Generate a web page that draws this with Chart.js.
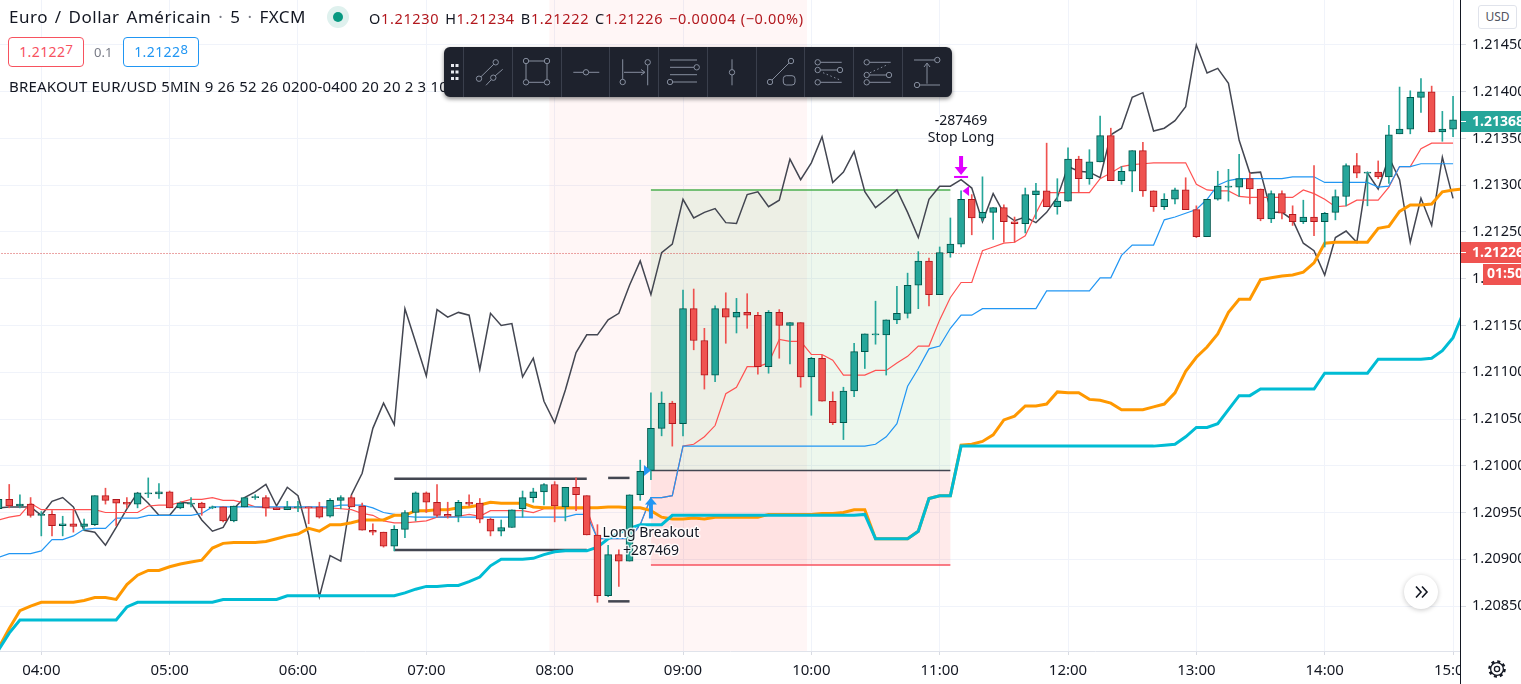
<!DOCTYPE html>
<html>
<head>
<meta charset="utf-8">
<script src="https://cdn.jsdelivr.net/npm/chart.js@4"></script>
<style>
  html, body { margin: 0; padding: 0; background: #fff; overflow: hidden; }
  body { width: 1521px; height: 684px; position: relative; font-family: "Noto Sans", sans-serif; color: #131722; }
  #wrap { position: absolute; left: 0; top: 0; width: 1521px; height: 684px; }
  .txt { position: absolute; white-space: nowrap; }
  .title { left: 9px; top: 5px; font-size: 17px; line-height: 24px; word-spacing: 2px; letter-spacing: .5px; }
  .title i { font-style: normal; color: #787b86; }
  .dot { position: absolute; left: 327px; top: 6px; width: 22px; height: 22px; border-radius: 50%; background: #dff1ee; }
  .dot:after { content: ''; position: absolute; left: 6px; top: 6px; width: 10px; height: 10px; border-radius: 50%; background: #089981; }
  .ohlc { left: 369px; top: 8px; font-size: 14.5px; line-height: 20px; color: #131722; letter-spacing: .65px; }
  .ohlc b { font-weight: 400; color: #b2181e; margin-right: 6px; }
  .pbox { position: absolute; top: 37px; height: 28px; border-radius: 4px; background: #fff; font-size: 14px; line-height: 28px; text-align: center; letter-spacing: .4px; }
  .pbox sup { font-size: 13px; line-height: 0; vertical-align: 3px; letter-spacing: 0; }
  .sell { left: 8px; width: 74px; border: 1px solid #f7525f; color: #f7525f; }
  .buy { left: 123px; width: 74px; border: 1px solid #2196f3; color: #2196f3; }
  .spread { left: 94px; top: 42px; font-size: 13px; line-height: 20px; color: #787b86; }
  .study { left: 9px; top: 76px; font-size: 15px; line-height: 20px; letter-spacing: .18px; }
  #tools { position: absolute; left: 444px; top: 47px; width: 508px; height: 50px; border-radius: 6px; background: #1e222d; box-shadow: 0 2px 4px rgba(0,0,0,.45); }
  #tools svg { display: block; }
  .usd { position: absolute; left: 1478px; top: 5px; width: 37px; height: 22px; border: 1px solid #e0e3eb; border-radius: 3px; font-size: 12px; line-height: 22px; text-align: center; background: #fff; color: #50535e; }
  .more { position: absolute; left: 1404px; top: 575px; width: 34px; height: 34px; border-radius: 50%; background: #fff; box-shadow: 0 1px 5px rgba(0,0,0,.22); }
  .gear { position: absolute; left: 1487px; top: 659px; }
</style>
</head>
<body>
<div id="wrap"><canvas id="chartMain"></canvas></div>

<div class="txt title">Euro / Dollar Américain <i>·</i> 5 <i>·</i> FXCM</div>
<div class="dot"></div>
<div class="txt ohlc">O<b>1.21230</b>H<b>1.21234</b>B<b>1.21222</b>C<b>1.21226</b><b>−0.00004 (−0.00%)</b></div>
<div class="pbox sell">1.2122<sup>7</sup></div>
<div class="txt spread">0.1</div>
<div class="pbox buy">1.2122<sup>8</sup></div>
<div class="txt study">BREAKOUT EUR/USD 5MIN 9 26 52 26 0200-0400 20 20 2 3 10</div>

<div id="tools">
  <svg width="508" height="50" fill="none" stroke="#868e9e" stroke-width="1">
    <g stroke="#3a3f4c">
      <path d="M19.5 0V50M68.5 0V50M117.5 0V50M165.5 0V50M214.5 0V50M263.5 0V50M312.5 0V50M360.5 0V50M409.5 0V50M458.5 0V50"/>
    </g>
    <g fill="#e8eaf0" stroke="none">
      <rect x="7" y="17" width="3" height="3"/><rect x="11.5" y="17" width="3" height="3"/>
      <rect x="7" y="23.5" width="3" height="3"/><rect x="11.5" y="23.5" width="3" height="3"/>
      <rect x="7" y="30" width="3" height="3"/><rect x="11.5" y="30" width="3" height="3"/>
    </g>
    <path d="M37 29.7L49.8 17.2M42 38.3L47.3 32.7M51.2 28.8L58.7 22.3"/>
    <circle cx="35" cy="31.7" r="2.7"/><circle cx="51.7" cy="15.3" r="2.7"/><circle cx="49.3" cy="30.7" r="2.7"/>
    <path d="M84.7 14H100.3M84.7 35.3H100.3M82 16.7V32.6M103 16.7V32.6"/>
    <circle cx="82" cy="14" r="2.7"/><circle cx="103" cy="14" r="2.7"/><circle cx="82" cy="35.3" r="2.7"/><circle cx="103" cy="35.3" r="2.7"/>
    <path d="M129.3 25.3H139.3M144.7 25.3H155.3"/><circle cx="142" cy="25.3" r="2.7"/>
    <path d="M178.7 12.3V32.3M180 25.3H200M197 22.5L201 25.3L197 28M203.7 18V38.3"/>
    <circle cx="178.7" cy="35" r="2.7"/><circle cx="203.7" cy="15.3" r="2.7"/>
    <path d="M226 13H253M226 20.3H250M226 27.7H253M228.7 35H253"/>
    <circle cx="252.7" cy="20.3" r="2.7"/><circle cx="226" cy="35" r="2.7"/>
    <path d="M288 12.3V22.6M288 28V38.3"/><circle cx="288" cy="25.3" r="2.7"/>
    <path d="M328 33L345 16"/><circle cx="326" cy="35" r="2.7"/><circle cx="347" cy="14" r="2.7"/>
    <rect x="339.3" y="28.7" width="11.7" height="9.3" rx="3"/>
    <path d="M376.4 15.3H397.7M376.4 23H393.3M376.4 35.3H397.7"/>
    <circle cx="373.7" cy="15.3" r="2.7"/><circle cx="373.7" cy="23" r="2.7"/><circle cx="396" cy="23" r="2.7"/><circle cx="373.7" cy="35.3" r="2.7"/>
    <path d="M379 25.7L396 33" stroke-dasharray="1.5 2.5"/>
    <path d="M425.4 15.3H446.7M425.4 28H442.3M425.4 35.3H446.7"/>
    <circle cx="422.7" cy="15.3" r="2.7"/><circle cx="422.7" cy="28" r="2.7"/><circle cx="445" cy="28" r="2.7"/><circle cx="422.7" cy="35.3" r="2.7"/>
    <path d="M426 25.7L444.3 17.3" stroke-dasharray="1.5 2.5"/>
    <path d="M470 13H490.6M475.7 38H496M483 17V36.7M480 20L483 16L486 20"/>
    <circle cx="493.3" cy="13" r="2.7"/><circle cx="473" cy="38" r="2.7"/>
  </svg>
</div>

<div class="usd">USD</div>
<div class="more">
  <svg width="34" height="34" fill="none" stroke="#131722" stroke-width="1.6"><path d="M12 11.5L17 17L12 22.5M18 11.5L23 17L18 22.5"/></svg>
</div>
<svg class="gear" width="20" height="20" fill="none" stroke="#131722" stroke-width="1.3">
  <circle cx="10" cy="10" r="2.6"/><circle cx="10" cy="10" r="6.4"/>
  <circle cx="10" cy="10" r="7.6" stroke-width="2.4" stroke-dasharray="3 2.97"/>
</svg>

<script>
// prices are in points above 1.20000, first candle sits 4 bars left of 04:00
const FIRST_BAR = -4;
const PRICE_BASE = 1.2;

const timeTicks = [0, 12, 24, 36, 48, 60, 72, 84, 96, 108, 120, 132];
const timeLabels = ['04:00', '05:00', '06:00', '07:00', '08:00', '09:00', '10:00', '11:00', '12:00', '13:00', '14:00', '15:00'];
const priceTicks = [850, 900, 950, 1000, 1050, 1100, 1150, 1200, 1250, 1300, 1350, 1400, 1450];

const opens = [
  954,964,957,959,947,948,936,938,935,937,
  968,964,961,959,970,970,972,955,959,960,
  955,956,941,956,966,966,955,953,955,956,
  956,946,963,966,957,931,929,914,932,950,
  971,961,948,946,961,960,943,930,934,954,
  966,972,980,956,977,968,926,861,905,898,
  969,995,1040,1067,1045,1168,1134,1097,1168,1159,
  1164,1161,1106,1164,1150,1153,1095,1115,1069,1046,
  1080,1122,1140,1140,1156,1163,1193,1219,1183,1228,
  1237,1285,1265,1271,1276,1261,1259,1290,1294,1277,
  1283,1328,1307,1325,1353,1305,1315,1337,1294,1277,
  1285,1295,1274,1245,1285,1298,1298,1307,1296,1264,
  1291,1269,1261,1266,1261,1271,1288,1321,1313,1314,
  1309,1355,1360,1394,1400,1357,1360
];
const closes = [
  964,957,959,947,948,936,938,935,938,968,
  963,960,959,971,971,972,955,960,960,955,
  956,941,957,966,967,955,953,956,956,955,
  945,963,966,956,931,929,914,932,950,971,
  961,947,946,961,959,943,930,934,953,966,
  972,980,957,977,969,926,861,905,898,969,
  994,1040,1067,1045,1168,1134,1097,1168,1159,1164,
  1161,1106,1164,1150,1153,1095,1115,1069,1046,1080,
  1122,1141,1141,1156,1163,1193,1219,1183,1228,1237,
  1285,1265,1271,1276,1261,1259,1290,1294,1277,1283,
  1328,1307,1325,1353,1305,1315,1337,1294,1277,1285,
  1295,1274,1245,1285,1299,1299,1307,1296,1264,1291,
  1270,1261,1266,1261,1270,1288,1321,1313,1314,1309,
  1354,1360,1394,1400,1357,1360,1370
];
const highs = [
  966,980,969,966,951,952,946,953,943,968,
  976,964,966,971,987,981,973,961,966,961,
  957,956,957,966,969,968,955,962,962,956,
  961,965,968,968,960,938,929,936,952,972,
  972,980,961,963,969,965,944,942,953,973,
  976,981,983,977,987,968,937,915,910,969,
  1006,1078,1079,1069,1188,1189,1147,1171,1185,1179,
  1184,1164,1166,1167,1153,1153,1116,1118,1079,1084,
  1131,1141,1176,1156,1192,1206,1229,1222,1234,1265,
  1294,1290,1309,1276,1279,1266,1297,1302,1345,1307,
  1340,1331,1338,1374,1361,1320,1337,1346,1294,1291,
  1297,1308,1278,1285,1315,1317,1333,1313,1296,1294,
  1294,1278,1284,1321,1271,1295,1323,1334,1314,1326,
  1364,1405,1401,1414,1406,1379,1395
];
const lows = [
  953,955,955,945,925,925,925,929,931,936,
  959,936,955,955,966,965,955,954,956,947,
  954,940,940,956,964,946,953,953,951,938,
  944,945,954,956,931,926,913,909,923,941,
  950,945,944,940,957,939,925,925,934,945,
  961,958,940,941,952,926,854,860,871,898,
  963,985,1032,1021,1032,1124,1082,1090,1131,1142,
  1147,1098,1099,1115,1109,1084,1054,1069,1044,1028,
  1074,1104,1130,1097,1152,1158,1168,1171,1183,1223,
  1234,1247,1262,1242,1239,1239,1249,1264,1277,1269,
  1283,1292,1301,1325,1305,1301,1293,1288,1272,1274,
  1280,1274,1244,1245,1284,1283,1288,1280,1262,1260,
  1264,1257,1259,1246,1234,1263,1278,1308,1278,1307,
  1302,1355,1355,1378,1357,1347,1352
];

const laggingLine = [
  955,956,956,956,947,962,966,956,931,929,
  915,934,954,971,960,947,947,961,960,942,
  930,934,954,966,972,980,957,977,968,926,
  860,904,898,969,992,1040,1067,1044,1168,1132,
  1096,1167,1159,1164,1161,1103,1163,1150,1152,1095,
  1115,1069,1046,1081,1121,1140,1140,1156,1163,1193,
  1219,1183,1228,1237,1285,1265,1271,1275,1260,1259,
  1290,1293,1277,1284,1328,1306,1324,1352,1303,1314,
  1336,1293,1276,1285,1295,1271,1244,1285,1299,1299,
  1306,1297,1261,1291,1270,1262,1266,1260,1271,1287,
  1320,1315,1314,1308,1354,1361,1394,1399,1358,1361,
  1369,1384,1450,1420,1425,1409,1348,1313,1314,1271,
  1271,1263,1238,1230,1204,1244,1251,1239,1313,1296,
  1330,1306,1239,1286,1257,1330,1286
];
const baseLine = [
  902,906,906,906,909,921,921,925,932,933,
  933,944,944,944,947,947,947,947,947,949,
  956,956,956,956,956,956,956,956,956,956,
  956,956,958,958,958,955,950,948,946,945,
  945,945,945,945,945,945,945,945,945,945,
  945,945,945,945,948,948,922,922,922,922,
  937,966,966,968,1021,1021,1021,1021,1021,1021,
  1021,1021,1021,1021,1021,1021,1021,1021,1021,1021,
  1021,1021,1023,1031,1045,1085,1104,1125,1128,1147,
  1161,1161,1168,1168,1168,1168,1168,1168,1187,1187,
  1187,1187,1187,1201,1201,1225,1236,1236,1236,1263,
  1266,1270,1274,1285,1300,1305,1307,1307,1307,1307,
  1307,1309,1309,1309,1303,1303,1303,1303,1303,1298,
  1299,1320,1320,1323,1323,1323,1323
];
const conversionLine = [
  942,945,947,960,953,953,953,953,953,953,
  950,950,950,950,957,958,958,961,964,964,
  966,963,963,960,956,955,955,955,955,955,
  955,955,954,953,949,947,941,939,939,940,
  941,945,945,946,948,946,952,952,952,952,
  950,954,954,954,954,954,922,922,922,922,
  937,966,966,968,1021,1023,1031,1043,1077,1084,
  1106,1106,1110,1135,1133,1133,1119,1119,1113,1097,
  1097,1097,1102,1102,1110,1117,1128,1128,1156,1180,
  1196,1196,1230,1234,1238,1239,1246,1270,1292,1292,
  1292,1292,1292,1307,1313,1320,1322,1323,1324,1324,
  1324,1324,1301,1295,1294,1294,1288,1287,1287,1287,
  1287,1287,1295,1291,1285,1277,1278,1284,1284,1284,
  1298,1320,1320,1339,1345,1345,1345
];
const spanA = [
  805,826,845,850,854,854,854,854,856,859,
  859,857,873,883,888,888,892,895,897,899,
  912,917,918,918,918,919,922,925,927,933,
  930,937,937,939,942,942,942,947,947,952,
  952,953,953,955,956,958,961,960,960,960,
  956,955,955,955,955,955,955,956,956,955,
  955,952,945,943,943,944,943,945,945,945,
  945,945,948,948,948,948,948,949,949,950,
  953,953,922,922,922,922,930,965,968,968,
  1022,1023,1026,1033,1049,1053,1064,1064,1066,1079,
  1078,1078,1071,1070,1067,1060,1060,1060,1063,1066,
  1078,1101,1116,1127,1141,1164,1178,1178,1199,1201,
  1203,1204,1207,1217,1238,1239,1239,1239,1239,1254,
  1256,1272,1279,1279,1280,1293,1295,1296
];
const spanB = [
  803,821,835,835,835,835,835,835,835,835,
  835,835,849,854,854,854,854,854,854,854,
  854,857,857,857,857,857,857,861,861,861,
  861,861,861,861,861,861,861,861,864,868,
  871,871,872,872,876,881,893,900,900,900,
  901,905,908,909,909,909,913,922,928,933,
  937,937,937,947,947,947,947,947,947,947,
  947,947,947,947,947,947,947,947,947,947,
  947,948,922,922,922,922,930,965,968,968,
  1021,1021,1021,1021,1021,1021,1021,1021,1021,1021,
  1021,1021,1021,1021,1021,1021,1021,1021,1021,1022,
  1023,1031,1041,1041,1045,1060,1075,1075,1082,1082,
  1082,1082,1082,1082,1099,1099,1099,1099,1099,1114,
  1114,1114,1114,1114,1115,1123,1137,1165
];

// session range and trade levels
const rangeHigh = 986, rangeLow = 910, rangeBars = [33, 51];
const extHigh = 987, extLow = 855, extBars = [53, 55];
const sessionBars = [47.5, 71.6];
const tradeBars = [57, 85];
const targetPrice = 1295, entryPrice = 995, stopPrice = 894;
const lastPrice = 1227, lastClose = 1368, exitPrice = 1311;
const entryBar = 57, exitBar = 86;

const UP = '#26a69a', DOWN = '#ef5350', UP_EDGE = '#00574c', DOWN_EDGE = '#b2181e';

const barAt = (k) => k + FIRST_BAR;
const isUp = (k) => closes[k] >= opens[k];
const series = (values) => values.map((y, k) => ({ x: barAt(k), y: y }));
const level = (bars, y) => bars.map((x) => ({ x: x, y: y }));

function thinLine(label, data, color, width, order, dash) {
  return {
    type: 'line', label: label, data: data, borderColor: color, borderWidth: width,
    borderDash: dash || [], pointRadius: 0, tension: 0, fill: false, order: order
  };
}

// shaded boxes go under the candles
const shadePlugin = {
  id: 'shades',
  beforeDatasetsDraw(chart) {
    const { ctx, chartArea: a, scales: { x, y } } = chart;
    const box = (from, to, top, bottom, color) => {
      ctx.fillStyle = color;
      ctx.fillRect(x.getPixelForValue(from), top, x.getPixelForValue(to) - x.getPixelForValue(from), bottom - top);
    };
    ctx.save();
    box(sessionBars[0], sessionBars[1], a.top, a.bottom, 'rgba(255,82,82,0.05)');
    box(tradeBars[0], tradeBars[1], y.getPixelForValue(targetPrice), y.getPixelForValue(entryPrice), 'rgba(76,175,80,0.1)');
    box(tradeBars[0], tradeBars[1], y.getPixelForValue(entryPrice), y.getPixelForValue(stopPrice), 'rgba(255,82,82,0.12)');
    ctx.restore();
  }
};

// trade marks, notes and the tags on the price axis
const marksPlugin = {
  id: 'marks',
  afterDraw(chart) {
    const { ctx, chartArea: a, scales: { x, y } } = chart;
    const ex = x.getPixelForValue(entryBar), px = y.getPixelForValue(entryPrice);
    const sx = x.getPixelForValue(exitBar);
    const poly = (pts, color) => {
      ctx.fillStyle = color;
      ctx.beginPath();
      pts.forEach((p, n) => n ? ctx.lineTo(p[0], p[1]) : ctx.moveTo(p[0], p[1]));
      ctx.closePath();
      ctx.fill();
    };
    ctx.save();

    // entry: blue triangle and up arrow
    poly([[ex - 7, px - 5.5], [ex, px], [ex - 7, px + 5.5]], '#2196f3');
    const ay = px + 27;
    poly([[ex, ay], [ex + 6, ay + 7], [ex + 2, ay + 7], [ex + 2, ay + 21], [ex - 2, ay + 21], [ex - 2, ay + 7], [ex - 6, ay + 7]], '#2196f3');

    // exit: magenta arrow, bar and triangle
    const sy = y.getPixelForValue(exitPrice);
    poly([[sx - 2, sy - 19], [sx + 2, sy - 19], [sx + 2, sy - 8], [sx + 6.5, sy - 8], [sx, sy], [sx - 6.5, sy - 8], [sx - 2, sy - 8]], '#e000ff');
    ctx.fillStyle = '#e000ff';
    ctx.fillRect(sx - 7, sy + 1, 14, 2);
    poly([[sx + 1.5, sy + 16], [sx + 8, sy + 11], [sx + 8, sy + 21]], '#e000ff');

    // notes
    ctx.font = '14px "Noto Sans"';
    ctx.textAlign = 'center';
    ctx.textBaseline = 'middle';
    ctx.lineJoin = 'round';
    const note = (text, cx, cy) => {
      ctx.lineWidth = 3;
      ctx.strokeStyle = 'rgba(255,255,255,0.85)';
      ctx.strokeText(text, cx, cy);
      ctx.fillStyle = '#131722';
      ctx.fillText(text, cx, cy);
    };
    note('Long Breakout', ex, y.getPixelForValue(928));
    note('+287469', ex, y.getPixelForValue(909));
    note('-287469', sx, y.getPixelForValue(1369));
    note('Stop Long', sx, y.getPixelForValue(1350));

    // the price pane hides the end of the time labels, its line runs to the window edge
    ctx.fillStyle = '#fff';
    ctx.fillRect(a.right, a.bottom, chart.width - a.right, chart.height - a.bottom);
    ctx.fillStyle = '#131722';
    ctx.fillRect(a.right, a.bottom, 1, chart.height - a.bottom);

    // price tags
    ctx.font = 'bold 14px "Noto Sans"';
    ctx.textAlign = 'left';
    const tag = (text, value, color) => {
      const ty = Math.round(y.getPixelForValue(value));
      ctx.fillStyle = color;
      ctx.fillRect(a.right + 1, ty - 11, chart.width - a.right, 21);
      ctx.fillStyle = '#fff';
      ctx.fillRect(a.right + 1, ty - 1, 5, 1);
      ctx.fillText(text, a.right + 12, ty);
    };
    tag('1.21368', lastClose, UP);
    tag('1.21226', lastPrice, DOWN);
    const ty = Math.round(y.getPixelForValue(lastPrice));
    ctx.fillStyle = DOWN;
    ctx.fillRect(1483, ty + 11, 38, 21);
    ctx.fillStyle = '#fff';
    ctx.fillText('01:50', 1487, ty + 21.5);
    ctx.restore();
  }
};

new Chart(document.getElementById('chartMain'), {
  data: {
    datasets: [
      {
        type: 'bar', label: 'Body', order: 1, grouped: false, barThickness: 7,
        data: opens.map((o, k) => ({ x: barAt(k), y: [o, closes[k]] })),
        backgroundColor: opens.map((o, k) => isUp(k) ? UP : DOWN),
        borderColor: opens.map((o, k) => isUp(k) ? UP_EDGE : DOWN_EDGE),
        borderWidth: 1, borderSkipped: false
      },
      {
        type: 'bar', label: 'Wick', order: 2, grouped: false, barThickness: 1,
        data: highs.map((h, k) => ({ x: barAt(k), y: [lows[k], h] })),
        backgroundColor: highs.map((h, k) => isUp(k) ? UP : DOWN)
      },
      thinLine('Span B', series(spanB), '#00bcd4', 3, 3),
      thinLine('Span A', series(spanA), '#ff9800', 3, 4),
      thinLine('Base', series(baseLine), '#2196f3', 1.2, 5),
      thinLine('Conversion', series(conversionLine), '#ff5252', 1.2, 6),
      thinLine('Lagging', series(laggingLine), '#434651', 1.5, 7),
      thinLine('Range high', level(rangeBars, rangeHigh), '#434651', 2.5, 8),
      thinLine('Range low', level(rangeBars, rangeLow), '#434651', 2.5, 8),
      thinLine('Ext high', level(extBars, extHigh), '#434651', 2.5, 8),
      thinLine('Ext low', level(extBars, extLow), '#434651', 2.5, 8),
      thinLine('Target', level(tradeBars, targetPrice), '#4caf50', 1.5, 9),
      thinLine('Entry', level(tradeBars, entryPrice), '#434651', 1.5, 9),
      thinLine('Stop', level(tradeBars, stopPrice), '#f7525f', 1.5, 9),
      thinLine('Last', level([-4, 133], lastPrice), '#d84a4a', 1, 10, [1, 2])
    ]
  },
  plugins: [shadePlugin, marksPlugin],
  options: {
    responsive: true,
    maintainAspectRatio: false,
    animation: false,
    layout: { padding: 0 },
    plugins: { legend: { display: false }, tooltip: { enabled: false } },
    scales: {
      x: {
        type: 'linear', min: -3.862, max: 132.65, offset: false,
        afterBuildTicks(s) { s.ticks = timeTicks.map((v) => ({ value: v })); },
        afterFit(s) { s.height = 33; s.paddingLeft = 0; s.paddingRight = 0; },
        grid: { offset: false, color: '#f0f3fa', tickColor: '#d8dbe3', tickLength: 4 },
        border: { color: '#e0e3eb' },
        ticks: {
          autoSkip: false, maxRotation: 0, color: '#131722', padding: 7,
          font: { family: '"Noto Sans"', size: 15 },
          callback(v) { return timeLabels[timeTicks.indexOf(v)]; }
        }
      },
      y: {
        type: 'linear', position: 'right', min: 801.9, max: 1498.1,
        afterBuildTicks(s) { s.ticks = priceTicks.map((v) => ({ value: v })); },
        afterFit(s) { s.width = 61; s.paddingTop = 0; s.paddingBottom = 0; },
        grid: { color: '#f0f3fa', tickColor: '#d8dbe3', tickLength: 6 },
        border: { color: '#131722' },
        ticks: {
          autoSkip: false, color: '#131722', padding: 6,
          font: { family: '"Noto Sans"', size: 14.5 },
          callback(v) { return (PRICE_BASE + v / 100000).toFixed(5); }
        }
      }
    }
  }
});
</script>
</body>
</html>
